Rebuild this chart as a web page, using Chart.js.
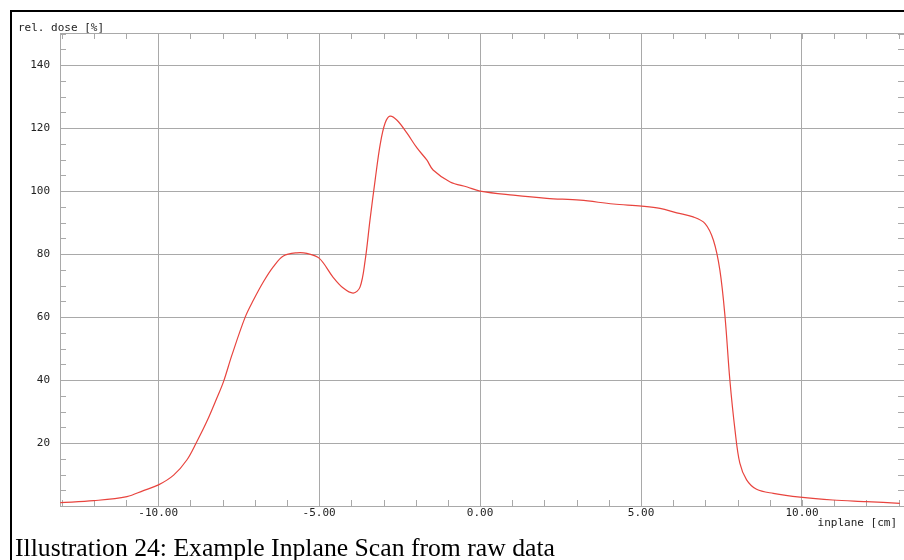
<!DOCTYPE html>
<html>
<head>
<meta charset="utf-8">
<script src="https://cdn.jsdelivr.net/npm/chart.js@4"></script>
<style>
  html, body { margin: 0; padding: 0; background: #fff; }
  body { width: 904px; height: 560px; position: relative; overflow: hidden; }
  .frame { position: absolute; left: 10px; top: 10px; width: 900px; height: 560px;
           border-left: 2px solid #000; border-top: 2px solid #000; }
  .wrap { position: absolute; left: 0; top: 0; width: 904px; height: 560px; }
  .caption { position: absolute; left: 15px; top: 535px; font-family: "Liberation Serif", serif;
             font-size: 25.7px; line-height: 26px; color: #000; white-space: nowrap; }
</style>
</head>
<body>
<div class="frame"></div>
<div class="wrap"><canvas id="graph"></canvas></div>
<div class="caption">Illustration 24: Example Inplane Scan from raw data</div>
<script>
// inplane profile (position in cm, relative dose in %)
var positions = [-13.04, -12.0, -10.97, -10.46, -9.99, -9.52, -9.11, -8.8, -8.49, -8.18,
                 -7.97, -7.71, -7.3, -7.04, -6.73, -6.42, -6.11, -5.69, -5.38, -5.0,
                 -4.57, -4.25, -3.94, -3.73, -3.57, -3.42, -3.26, -3.1, -2.95, -2.8,
                 -2.58, -2.27, -1.96, -1.65, -1.46, -0.93, -0.4, 0, 1.03, 2.07,
                 3.11, 4.14, 5.02, 5.59, 6.11, 6.62, 6.99, 7.25, 7.45, 7.61,
                 7.76, 7.92, 8.07, 8.28, 8.59, 9.11, 9.94, 10.96, 12.0, 13.04];
var doses = [1.05, 1.7, 3.0, 4.9, 6.7, 9.8, 14.6, 20.4, 26.8, 34.2,
             39.5, 47.9, 59.9, 65.4, 71.2, 76.0, 79.4, 80.4, 80.2, 78.7,
             72.7, 69.2, 67.6, 69.5, 78, 90.8, 103.5, 115, 121.6, 123.8,
             122.5, 118.4, 113.7, 109.8, 106.7, 102.9, 101.3, 100, 98.7, 97.7,
             97.1, 95.9, 95.2, 94.5, 93.1, 91.8, 89.7, 84.4, 74.9, 60.1,
             40.0, 24.1, 13.6, 8.3, 5.3, 4.0, 2.8, 1.9, 1.4, 0.86];

var xTicks = [-10, -5, 0, 5, 10];
var yTicks = [20, 40, 60, 80, 100, 120, 140];
var xMinor = [-13, -12, -11, -10, -9, -8, -7, -6, -5, -4, -3, -2, -1, 0, 1, 2, 3, 4, 5, 6, 7, 8, 9, 10, 11, 12, 13];
var yMinor = [5, 10, 15, 20, 25, 30, 35, 40, 45, 50, 55, 60, 65, 70, 75, 80, 85, 90, 95, 100,
              105, 110, 115, 120, 125, 130, 135, 140, 145, 150];

var xTitle = "inplane [cm]";
var yTitle = "rel. dose [%]";

var mono = "'DejaVu Sans Mono', monospace";
var gridGray = "#a9a9a9";

// small inward ticks on all four sides of the plot + axis titles
var frameTicks = {
    id: "frameTicks",
    beforeDatasetsDraw: function(chart){
        var ctx = chart.ctx, a = chart.chartArea;
        var xs = chart.scales.x, ys = chart.scales.y;
        ctx.save();
        ctx.strokeStyle = gridGray;
        ctx.lineWidth = 1;
        ctx.beginPath();
        ctx.moveTo(a.left, a.top + 0.5);
        ctx.lineTo(a.right, a.top + 0.5);
        xMinor.forEach(function(v){
            var px = Math.round(xs.getPixelForValue(v)) + 0.5;
            ctx.moveTo(px, a.bottom); ctx.lineTo(px, a.bottom - 6);
            ctx.moveTo(px, a.top); ctx.lineTo(px, a.top + 6);
        });
        yMinor.forEach(function(v){
            var py = Math.round(ys.getPixelForValue(v)) + 0.5;
            ctx.moveTo(a.left, py); ctx.lineTo(a.left + 6, py);
            ctx.moveTo(a.right, py); ctx.lineTo(a.right - 6, py);
        });
        ctx.stroke();
        ctx.restore();
    },
    afterDraw: function(chart){
        var ctx = chart.ctx, a = chart.chartArea;
        ctx.save();
        ctx.fillStyle = "#222";
        ctx.font = "11px " + mono;
        ctx.textBaseline = "alphabetic";
        ctx.textAlign = "left";
        ctx.fillText(yTitle, 18, a.top - 2);
        ctx.textAlign = "right";
        ctx.fillText(xTitle, a.right - 7, a.bottom + 20);
        ctx.restore();
    }
};

new Chart(document.getElementById("graph"), {
    type: "line",
    data: {
        datasets: [{
            data: positions.map(function(x, i){ return {x: x, y: doses[i]}; }),
            borderColor: "#e8443e",
            borderWidth: 1.2,
            pointRadius: 0,
            fill: false,
            tension: 0.35
        }]
    },
    options: {
        responsive: true,
        maintainAspectRatio: false,
        animation: false,
        layout: { padding: { top: 33, bottom: 34, left: 0, right: 0 } },
        plugins: { legend: { display: false }, tooltip: { enabled: false } },
        scales: {
            x: {
                type: "linear",
                min: -13.05,
                max: 13.17,
                afterBuildTicks: function(s){ s.ticks = xTicks.map(function(v){ return {value: v}; }); },
                afterFit: function(s){ s.height = 20; },
                ticks: {
                    padding: 1,
                    color: "#222",
                    font: { family: mono, size: 11 },
                    callback: function(v){ return Number(v).toFixed(2); }
                },
                grid: { color: gridGray, drawTicks: false },
                border: { display: true, color: gridGray }
            },
            y: {
                min: 0,
                max: 150.2,
                afterBuildTicks: function(s){ s.ticks = yTicks.map(function(v){ return {value: v}; }); },
                afterFit: function(s){ s.width = 60; },
                ticks: {
                    padding: 10,
                    color: "#222",
                    font: { family: mono, size: 11 }
                },
                grid: { color: gridGray, drawTicks: false },
                border: { display: true, color: gridGray }
            }
        }
    },
    plugins: [frameTicks]
});
</script>
</body>
</html>
